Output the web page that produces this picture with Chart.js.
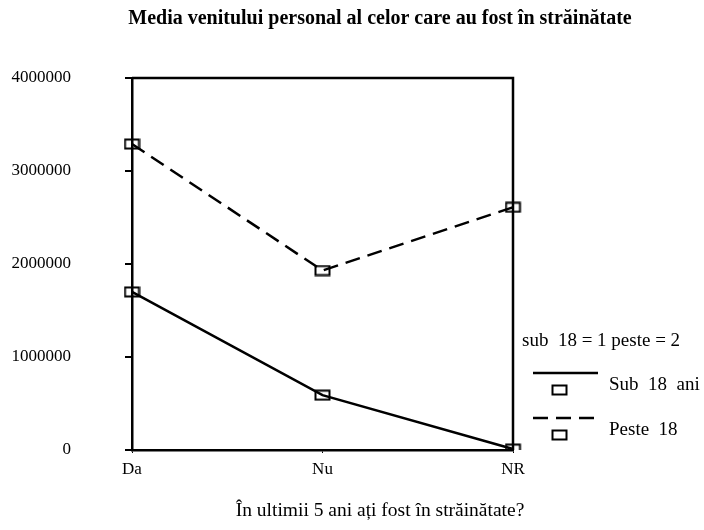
<!DOCTYPE html>
<html>
<head>
<meta charset="utf-8">
<script src="https://cdn.jsdelivr.net/npm/chart.js@4/dist/chart.umd.min.js"></script>
<style>
  html, body { margin: 0; padding: 0; background: #fff; }
  #wrap { width: 704px; height: 530px; }
</style>
</head>
<body>
<div id="wrap"><canvas id="chart" width="704" height="530"></canvas></div>
<script>
// values
const categories = ['Da', 'Nu', 'NR'];
const sub18 = [1700000, 590000, 10000];
const peste18 = [3290000, 1930000, 2610000];
const yTicks = [0, 1000000, 2000000, 3000000, 4000000];
const seriesNames = ['Sub  18  ani', 'Peste  18'];

const titleText = 'Media venitului personal al celor care au fost în străinătate';
const xTitleText = 'În ultimii 5 ani ați fost în străinătate?';
const legendTitle = 'sub  18 = 1 peste = 2';

const serif = '"Liberation Serif", "Times New Roman", serif';

// hollow rectangle marker like the SPSS one
function boxMarker() {
    const c = document.createElement('canvas');
    c.width = 17; c.height = 12;
    const g = c.getContext('2d');
    g.strokeStyle = '#000';
    g.lineWidth = 2;
    g.strokeRect(1.5, 1.5, 14, 9);
    return c;
}
const marker = boxMarker();

// frame, title, axis title and legend
const decor = {
    id: 'decor',
    beforeDatasetsDraw(chart) {
        const a = chart.chartArea;
        const ctx = chart.ctx;
        ctx.save();
        ctx.strokeStyle = '#000';
        ctx.lineWidth = 2.5;
        ctx.beginPath();
        ctx.moveTo(a.left, a.top);
        ctx.lineTo(a.right, a.top);
        ctx.lineTo(a.right, a.bottom);
        ctx.stroke();
        ctx.restore();
    },
    afterDraw(chart) {
        const ctx = chart.ctx;
        ctx.save();
        ctx.fillStyle = '#000';
        ctx.textBaseline = 'middle';
        ctx.textAlign = 'center';
        ctx.font = 'bold 20px ' + serif;
        ctx.fillText(titleText, 380, 19);
        ctx.font = '19.5px ' + serif;
        ctx.fillText(xTitleText, 380, 511);

        ctx.textAlign = 'left';
        ctx.font = '19px ' + serif;
        ctx.fillText(legendTitle, 522, 341);

        const rows = [373, 418];
        chart.data.datasets.forEach((ds, i) => {
            const y = rows[i];
            ctx.strokeStyle = '#000';
            ctx.lineWidth = 2.5;
            ctx.setLineDash(ds.borderDash || []);
            ctx.beginPath();
            ctx.moveTo(533, y);
            ctx.lineTo(598, y);
            ctx.stroke();
            ctx.setLineDash([]);
            ctx.drawImage(marker, 559 - 8, y + 17 - 6);
            ctx.font = '19px ' + serif;
            ctx.fillText(ds.label, 609, y + 12);
        });
        ctx.restore();
    }
};

new Chart(document.getElementById('chart'), {
    type: 'line',
    data: {
        labels: categories,
        datasets: [{
            label: seriesNames[0],
            data: sub18,
            borderColor: '#000',
            borderWidth: 2.5,
            pointStyle: marker,
            pointRadius: 6,
            tension: 0
        }, {
            label: seriesNames[1],
            data: peste18,
            borderColor: '#000',
            borderWidth: 2.5,
            borderDash: [15, 8],
            pointStyle: marker,
            pointRadius: 6,
            tension: 0
        }]
    },
    options: {
        responsive: false,
        animation: false,
        layout: { padding: { top: 78, right: 191, left: 0, bottom: 0 } },
        plugins: {
            legend: { display: false },
            title: { display: false },
            tooltip: { enabled: false }
        },
        scales: {
            x: {
                offset: false,
                grid: { display: true, drawOnChartArea: false, tickLength: 3, color: '#000' },
                border: { display: true, color: '#000', width: 2.5 },
                ticks: { color: '#000', font: { family: serif, size: 17 }, padding: 6, maxRotation: 0 },
                afterFit(scale) { scale.height = 80; }
            },
            y: {
                min: yTicks[0],
                max: yTicks[yTicks.length - 1],
                afterBuildTicks(scale) { scale.ticks = yTicks.map(v => ({ value: v })); },
                grid: { display: true, drawOnChartArea: false, tickLength: 7, color: '#000', lineWidth: 2 },
                border: { display: true, color: '#000', width: 2.5 },
                ticks: {
                    color: '#000',
                    font: { family: serif, size: 17 },
                    padding: 54,
                    callback: v => String(v)
                },
                afterFit(scale) { scale.width = 132; }
            }
        }
    },
    plugins: [decor]
});
</script>
</body>
</html>
